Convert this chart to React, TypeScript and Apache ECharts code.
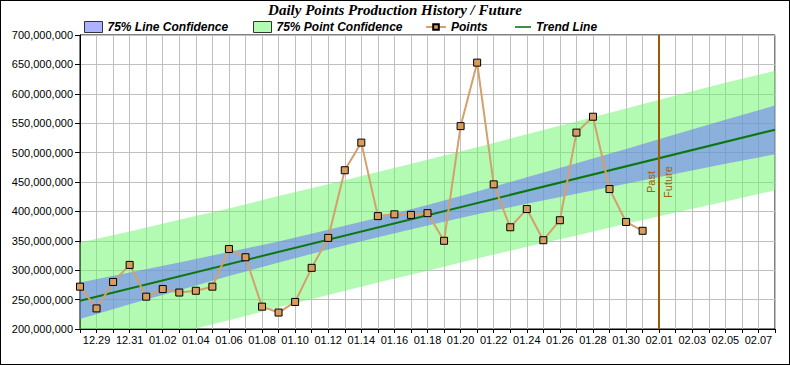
import React, { useEffect, useRef } from "react";
import * as echarts from "echarts";

const dates = [
  "12.28", "12.29", "12.30", "12.31", "01.01", "01.02", "01.03", "01.04", "01.05", "01.06",
  "01.07", "01.08", "01.09", "01.10", "01.11", "01.12", "01.13", "01.14", "01.15", "01.16",
  "01.17", "01.18", "01.19", "01.20", "01.21", "01.22", "01.23", "01.24", "01.25", "01.26",
  "01.27", "01.28", "01.29", "01.30", "01.31", "02.01", "02.02", "02.03", "02.04", "02.05",
  "02.06", "02.07", "02.08",
];

// Daily points (millions), 12.28 .. 01.31
const points = [
  272, 235, 280, 309, 255, 268, 262, 265, 272, 336,
  322, 238, 228, 246, 304, 355, 470, 517, 392, 395,
  394, 397, 350, 545, 653, 446, 373, 404, 351, 385,
  534, 561, 438, 382, 367,
];

// Trend line (millions) at first and last date
const trendDates = ["12.28", "02.08"];
const trendValues = [248, 539];

// Confidence bands (millions), read every 3 days
const bandDates = [
  "12.28", "12.31", "01.03", "01.06", "01.09", "01.12", "01.15", "01.18",
  "01.21", "01.24", "01.27", "01.30", "02.02", "02.05", "02.08",
];
const lineBandUpper = [279, 296, 313, 331, 349, 369, 389, 411, 434, 458, 482, 506, 531, 556, 580];
const lineBandLower = [217, 242, 266, 290, 313, 335, 356, 376, 395, 413, 430, 447, 464, 481, 497];
const pointBandUpper = [347, 366, 386, 405, 426, 446, 467, 488, 509, 531, 553, 575, 597, 619, 639];
const pointBandLower = [150, 172, 194, 215, 237, 258, 279, 299, 320, 340, 359, 379, 398, 417, 436];

const splitDate = "02.01";
const yTicks = { min: 200, max: 700, interval: 50 };

const LINE_BAND = "rgba(103,114,252,0.55)";
const POINT_BAND = "rgba(103,245,103,0.5)";
const TREND = "#0c780c";
const LEGEND_TOP = 21;

const legendText = {
  fontFamily: "Liberation Sans",
  fontStyle: "italic",
  fontWeight: "bold",
  fontSize: 12,
  color: "#000",
};

export default function App() {
  const ref = useRef<HTMLDivElement>(null);

  useEffect(() => {
    if (!ref.current) return;
    const chart = echarts.init(ref.current, undefined, { renderer: "svg" });

    const bandBase = (lower: number[]) => bandDates.map((d, i) => [d, lower[i]]);
    const bandDiff = (upper: number[], lower: number[]) =>
      bandDates.map((d, i) => [d, upper[i] - lower[i]]);

    const option: any = {
      animation: false,
      title: {
        text: "Daily Points Production History / Future",
        left: "center",
        top: 2,
        padding: 0,
        textStyle: {
          fontFamily: "Liberation Serif",
          fontStyle: "italic",
          fontWeight: "bold",
          fontSize: 15,
          color: "#000",
        },
      },
      legend: [
        {
          left: 84,
          top: LEGEND_TOP,
          padding: 0,
          itemWidth: 18,
          itemHeight: 11,
          itemGap: 5,
          textStyle: legendText,
          data: [
            { name: "75% Line Confidence", icon: "rect", itemStyle: { color: LINE_BAND, borderColor: "#333", borderWidth: 1 } },
          ],
        },
        {
          left: 253,
          top: LEGEND_TOP,
          padding: 0,
          itemWidth: 18,
          itemHeight: 11,
          textStyle: legendText,
          data: [
            { name: "75% Point Confidence", icon: "rect", itemStyle: { color: POINT_BAND, borderColor: "#333", borderWidth: 1 } },
          ],
        },
        {
          left: 425,
          top: LEGEND_TOP,
          padding: 0,
          itemWidth: 20,
          itemHeight: 7,
          itemGap: 4,
          textStyle: legendText,
          data: [{ name: "Points" }],
        },
        {
          left: 515,
          top: LEGEND_TOP,
          padding: 0,
          itemWidth: 16,
          itemHeight: 2,
          textStyle: legendText,
          data: [{ name: "Trend Line", icon: "path://M0,0 H20 V2 H0 Z", itemStyle: { color: TREND } }],
        },
      ],
      grid: {
        left: 80,
        right: 15,
        top: 35,
        bottom: 36,
        show: true,
        borderColor: "#000",
        borderWidth: 1,
        backgroundColor: "transparent",
      },
      xAxis: {
        type: "category",
        data: dates,
        boundaryGap: false,
        axisLine: { lineStyle: { color: "#000", width: 1 } },
        axisTick: { show: true, interval: 0, length: 4, lineStyle: { color: "#000" } },
        axisLabel: {
          interval: (i: number) => i % 2 === 1,
          fontFamily: "Liberation Sans",
          fontSize: 11,
          color: "#000",
          margin: 5,
        },
        splitLine: { show: true, interval: 0, lineStyle: { color: "#c0c0c0", width: 1 } },
      },
      yAxis: {
        type: "value",
        min: yTicks.min,
        max: yTicks.max,
        interval: yTicks.interval,
        axisLine: { show: true, lineStyle: { color: "#000", width: 1 } },
        axisTick: { show: true, length: 5, lineStyle: { color: "#000" } },
        axisLabel: {
          formatter: (v: number) => (v * 1e6).toLocaleString("en-US"),
          fontFamily: "Liberation Sans",
          fontSize: 11,
          color: "#000",
          margin: 7,
        },
        splitLine: { show: true, lineStyle: { color: "#c0c0c0", width: 1 } },
      },
      series: [
        {
          name: "pointBase",
          type: "line",
          stack: "pointBand",
          data: bandBase(pointBandLower),
          symbol: "none",
          lineStyle: { width: 0, opacity: 0 },
          areaStyle: { opacity: 0 },
          silent: true,
          z: 1,
        },
        {
          name: "75% Point Confidence",
          type: "line",
          stack: "pointBand",
          data: bandDiff(pointBandUpper, pointBandLower),
          symbol: "none",
          color: POINT_BAND,
          lineStyle: { width: 0, opacity: 0 },
          areaStyle: { color: POINT_BAND, opacity: 1 },
          silent: true,
          z: 1,
        },
        {
          name: "lineBase",
          type: "line",
          stack: "lineBand",
          data: bandBase(lineBandLower),
          symbol: "none",
          lineStyle: { width: 0, opacity: 0 },
          areaStyle: { opacity: 0 },
          silent: true,
          z: 1,
        },
        {
          name: "75% Line Confidence",
          type: "line",
          stack: "lineBand",
          data: bandDiff(lineBandUpper, lineBandLower),
          symbol: "none",
          color: LINE_BAND,
          lineStyle: { width: 0, opacity: 0 },
          areaStyle: { color: LINE_BAND, opacity: 1 },
          silent: true,
          z: 1,
        },
        {
          name: "Trend Line",
          type: "line",
          data: trendDates.map((d, i) => [d, trendValues[i]]),
          symbol: "none",
          color: TREND,
          lineStyle: { color: TREND, width: 2 },
          z: 3,
        },
        {
          name: "Points",
          type: "line",
          data: points.map((v, i) => [dates[i], v]),
          symbol: "rect",
          symbolSize: 7,
          color: "#d99c5f",
          itemStyle: { color: "#d99c5f", borderColor: "#000", borderWidth: 1 },
          lineStyle: { color: "#d4a06c", width: 2 },
          z: 4,
          markLine: {
            silent: true,
            symbol: "none",
            lineStyle: { color: "#a05a00", width: 2, type: "solid" },
            label: {
              color: "#a0600a",
              fontFamily: "Liberation Sans",
              fontSize: 11,
              distance: 3,
            },
            data: [
              { xAxis: splitDate, label: { formatter: "Past", position: "insideMiddleTop" } },
              { xAxis: splitDate, label: { formatter: "Future", position: "insideMiddleBottom" } },
            ],
          },
        },
      ],
    };

    chart.setOption(option);
    return () => chart.dispose();
  }, []);

  return (
    <div style={{ position: "fixed", left: 0, top: 0, width: 790, height: 365, background: "#fff" }}>
      <div ref={ref} style={{ position: "absolute", left: 0, top: 0, width: 790, height: 365 }} />
      <div
        style={{
          position: "absolute",
          left: 0,
          top: 0,
          width: 790,
          height: 365,
          border: "1px solid #000",
          boxSizing: "border-box",
          pointerEvents: "none",
        }}
      />
    </div>
  );
}
